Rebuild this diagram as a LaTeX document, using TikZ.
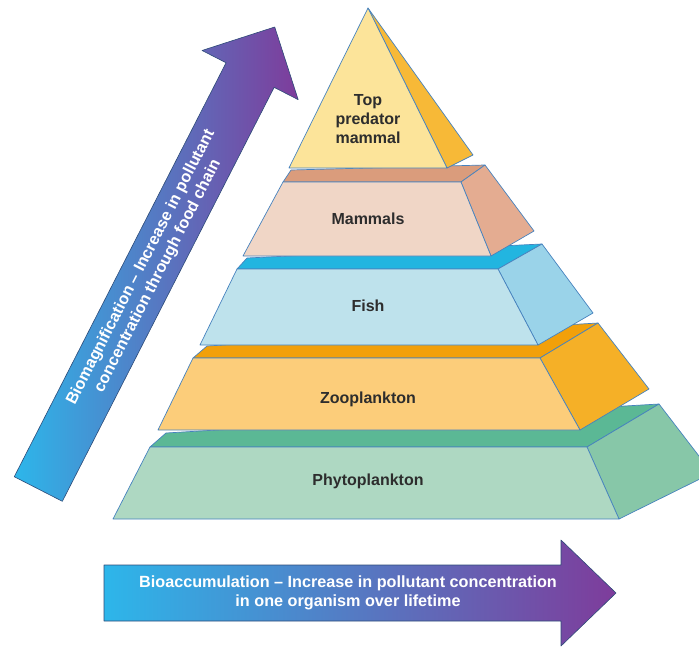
\documentclass[tikz,border=0pt]{standalone}
\usepackage{fontspec}
\setmainfont{Liberation Sans}
\usetikzlibrary{calc}
\definecolor{edgeblue}{RGB}{70,130,190}
\definecolor{labelgray}{RGB}{45,45,45}
\definecolor{arrowedge}{RGB}{45,75,120}
\definecolor{bioblue}{RGB}{45,182,234}
\definecolor{biomid}{RGB}{95,125,200}
\definecolor{biopurple}{RGB}{126,60,155}
\definecolor{topfront}{RGB}{252,228,154}
\definecolor{topside}{RGB}{247,185,55}
\definecolor{mamfront}{RGB}{240,214,198}
\definecolor{mamtop}{RGB}{218,156,124}
\definecolor{mamside}{RGB}{228,172,145}
\definecolor{fishfront}{RGB}{190,226,236}
\definecolor{fishtop}{RGB}{34,181,224}
\definecolor{fishside}{RGB}{154,211,233}
\definecolor{zoofront}{RGB}{252,205,122}
\definecolor{zootop}{RGB}{242,160,10}
\definecolor{zooside}{RGB}{245,176,39}
\definecolor{phyfront}{RGB}{174,216,194}
\definecolor{phytop}{RGB}{91,184,149}
\definecolor{physide}{RGB}{135,199,168}

\begin{document}
\begin{tikzpicture}[x=1pt,y=-1pt,line join=round]
\tikzstyle{face}=[draw=edgeblue,line width=0.7pt]
\tikzstyle{lbl}=[text=labelgray,align=center,font=\bfseries\fontsize{16}{19}\selectfont]
\tikzstyle{arrowtxt}=[text=white,align=center,font=\bfseries\fontsize{16.2}{19}\selectfont]
\tikzstyle{bigarrow}=[draw=arrowedge,line width=0.6pt,left color=bioblue,middle color=biomid,right color=biopurple]
\useasboundingbox (0,0) rectangle (699,648);
\coordinate (pA) at (150,447);
\coordinate (pB) at (587,447);
\coordinate (pC) at (619,519);
\coordinate (pD) at (113,519);
\coordinate (pE) at (166,433);
\coordinate (pF) at (659,404);
\coordinate (pG) at (712,473);
\coordinate (zA) at (193,358);
\coordinate (zB) at (540,358);
\coordinate (zC) at (580,430);
\coordinate (zD) at (158,430);
\coordinate (zE) at (207,346);
\coordinate (zF) at (598,323);
\coordinate (zG) at (649,389);
\coordinate (fA) at (237,269);
\coordinate (fB) at (498,269);
\coordinate (fC) at (538,345);
\coordinate (fD) at (200,345);
\coordinate (fE) at (247,258);
\coordinate (fF) at (542,244);
\coordinate (fG) at (593,313);
\coordinate (mA) at (283,182);
\coordinate (mB) at (461,182);
\coordinate (mC) at (491,256);
\coordinate (mD) at (243,256);
\coordinate (mE) at (291,170);
\coordinate (mF) at (485,165);
\coordinate (mG) at (534,231);
\coordinate (tA) at (368,8);
\coordinate (tB) at (289,168);
\coordinate (tC) at (447,168);
\coordinate (tD) at (473,155);
\filldraw[face,fill=phytop] (pA) -- (pB) -- (pF) -- (pE) -- cycle;
\filldraw[face,fill=physide] (pB) -- (pF) -- (pG) -- (pC) -- cycle;
\filldraw[face,fill=phyfront] (pA) -- (pB) -- (pC) -- (pD) -- cycle;
\filldraw[face,fill=zootop] (zA) -- (zB) -- (zF) -- (zE) -- cycle;
\filldraw[face,fill=zooside] (zB) -- (zF) -- (zG) -- (zC) -- cycle;
\filldraw[face,fill=zoofront] (zA) -- (zB) -- (zC) -- (zD) -- cycle;
\filldraw[face,fill=fishtop] (fA) -- (fB) -- (fF) -- (fE) -- cycle;
\filldraw[face,fill=fishside] (fB) -- (fF) -- (fG) -- (fC) -- cycle;
\filldraw[face,fill=fishfront] (fA) -- (fB) -- (fC) -- (fD) -- cycle;
\filldraw[face,fill=mamtop] (mA) -- (mB) -- (mF) -- (mE) -- cycle;
\filldraw[face,fill=mamside] (mB) -- (mF) -- (mG) -- (mC) -- cycle;
\filldraw[face,fill=mamfront] (mA) -- (mB) -- (mC) -- (mD) -- cycle;
\filldraw[face,fill=topside] (tA) -- (tD) -- (tC) -- cycle;
\filldraw[face,fill=topfront] (tA) -- (tB) -- (tC) -- cycle;
\node[lbl] (toplbl) at (368,119) {Top\\predator\\mammal};
\node[lbl] (mamlbl) at (368,219) {Mammals};
\node[lbl] (fishlbl) at (368,306) {Fish};
\node[lbl] (zoolbl) at (368,399) {Zooplankton};
\node[lbl] (phylbl) at (368,481) {Phytoplankton};
\begin{scope}[shift={(104,593)}]
\shade[bigarrow] (0,-28) -- (457,-28) -- (457,-53) -- (512,0) -- (457,53) -- (457,28) -- (0,28) -- cycle;
\node[arrowtxt] (bioacc) at (244,0) {Bioaccumulation -- Increase in pollutant concentration\\in one organism over lifetime};
\end{scope}
\begin{scope}[shift={(38.3,489)},rotate=62.9]
\shade[bigarrow] (0,-27) -- (465,-27) -- (465,-54) -- (519,0) -- (465,54) -- (465,27) -- (0,27) -- cycle;
\node[arrowtxt,transform shape] (biomag) at (244,0) {Biomagnification -- Increase in pollutant\\concentration through food chain};
\end{scope}
\end{tikzpicture}
\end{document}
